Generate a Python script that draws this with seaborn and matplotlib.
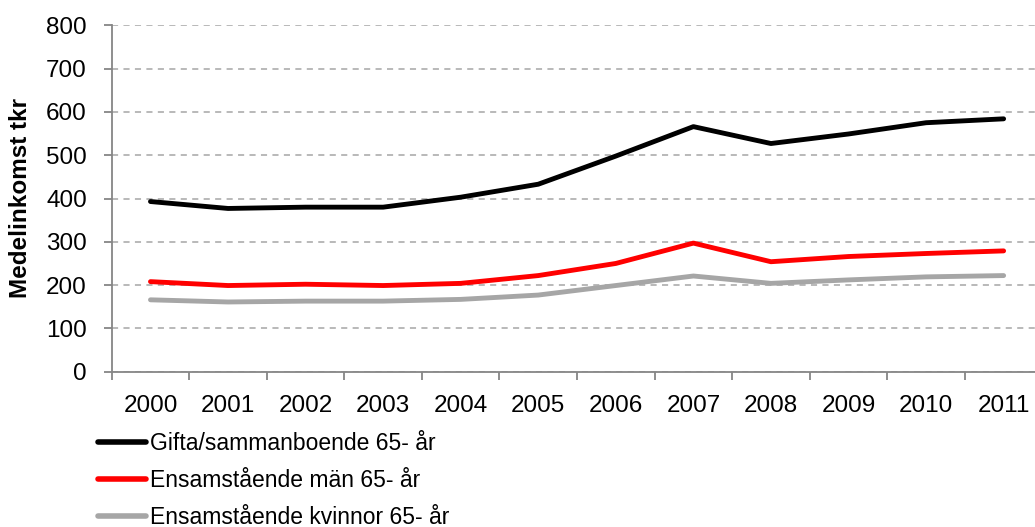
import matplotlib
matplotlib.use("Agg")
import matplotlib.pyplot as plt
from matplotlib.ticker import FixedLocator
from matplotlib.lines import Line2D
import seaborn as sns
import pandas as pd

years = ["2000", "2001", "2002", "2003", "2004", "2005", "2006", "2007", "2008", "2009", "2010", "2011"]
gifta = [393, 377, 380, 380, 403, 433, 498, 566, 527, 549, 575, 584]
man = [208, 199, 202, 199, 204, 222, 250, 297, 254, 266, 273, 279]
kvinnor = [166, 161, 163, 163, 167, 177, 199, 221, 204, 212, 219, 222]
series_names = ["Gifta/sammanboende 65- år", "Ensamstående män 65- år", "Ensamstående kvinnor 65- år"]
colors = ["#000000", "#FF0000", "#A6A6A6"]

rows = []
for name, vals in zip(series_names, [gifta, man, kvinnor]):
    for i, v in enumerate(vals):
        rows.append({"idx": i, "value": v, "series": name})
df = pd.DataFrame(rows)

sns.set_style("white")
plt.rcParams["font.family"] = ["Liberation Sans", "DejaVu Sans"]
plt.rcParams["text.color"] = "black"
plt.rcParams["axes.labelcolor"] = "black"

fig = plt.figure(figsize=(10.35, 5.27), dpi=100)
ax = fig.add_axes([111.7 / 1035, (527 - 371.7) / 527, 930.7 / 1035, 346.4 / 527])

sns.lineplot(data=df, x="idx", y="value", hue="series", palette=dict(zip(series_names, colors)),
             linewidth=3.5, ax=ax, legend=False, solid_capstyle="round")

ax.set_xlim(-0.5, 11.5)
ax.set_ylim(0, 800)
ax.set_yticks(range(0, 801, 100))
ax.set_xticks(range(len(years)))
ax.set_xticklabels(years)
ax.xaxis.set_minor_locator(FixedLocator([i - 0.5 for i in range(len(years) + 1)]))
ax.tick_params(axis="x", which="major", length=0, pad=17, labelsize=17.5, colors="black")
ax.tick_params(axis="x", which="minor", length=5.8, width=1.3, color="#868686", direction="out", bottom=True)
ax.tick_params(axis="y", which="major", length=5.8, width=1.3, color="#868686", pad=12, labelsize=17.5,
               labelcolor="black", left=True, direction="out")

ax.grid(axis="y", color="#A6A6A6", linestyle=(0, (4, 3.5)), linewidth=1.1)
ax.grid(axis="x", visible=False)
ax.set_axisbelow(True)
for s in ["top", "right"]:
    ax.spines[s].set_visible(False)
for s in ["left", "bottom"]:
    ax.spines[s].set_color("#868686")
    ax.spines[s].set_linewidth(1.3)

ax.set_xlabel("")
ax.set_ylabel("Medelinkomst tkr", fontsize=17.5, fontweight="bold", color="black")
ax.yaxis.set_label_coords((32 - 111.7) / 930.7, 0.5)

handles = [Line2D([0], [0], color=c, linewidth=4) for c in colors]
leg = fig.legend(handles, series_names, loc="upper left", bbox_to_anchor=(98 / 1035, 1 - 432 / 527),
                 frameon=False, fontsize=16.5, handlelength=2.1, handletextpad=0.15,
                 labelspacing=0.62, borderpad=0, borderaxespad=0)
for t in leg.get_texts():
    t.set_color("black")

fig.savefig("out.png", dpi=100)
